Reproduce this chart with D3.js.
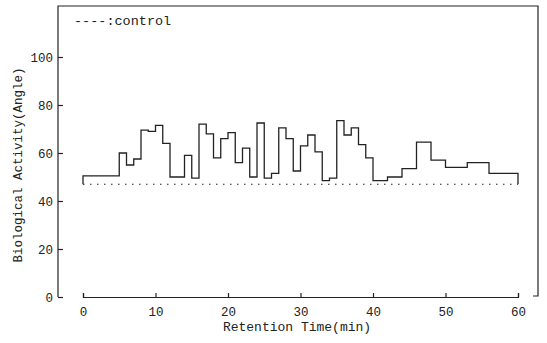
<!DOCTYPE html>
<html>
<head>
<meta charset="utf-8">
<script src="https://d3js.org/d3.v7.min.js"></script>
<style>
  body { margin: 0; background: #fff; }
  text { font-family: "Liberation Mono", "DejaVu Sans Mono", monospace; fill: #222; }
</style>
</head>
<body>
<svg id="chart" width="547" height="343"></svg>
<script>
  // fraction start times (min) and biological activity (angle) of each fraction
  var startTimes = [0, 5, 6, 7, 8, 9, 10, 11, 12, 14, 15, 16, 17, 18, 19, 20, 21, 22, 23, 24,
                    25, 26, 27, 28, 29, 30, 31, 32, 33, 34, 35, 36, 37, 38, 39, 40, 42, 44, 46, 48,
                    50, 53, 56];
  var activity = [50.5, 60, 55, 57.5, 69.5, 69, 71.5, 64, 50, 59, 49.5, 72, 68, 58, 66, 68.5, 56, 62, 50, 72.5,
                  49.5, 51.5, 70.5, 66, 52.5, 63, 67.5, 60.5, 48.5, 49.5, 73.5, 67.5, 70.5, 63.5, 58, 48.5, 50, 53.5, 64.5, 57,
                  54, 56, 51.5];
  var endTime = 60;
  var controlValue = 47;
  var xTicks = [0, 10, 20, 30, 40, 50, 60];
  var yTicks = [0, 20, 40, 60, 80, 100];

  var svg = d3.select('#chart');
  var ink = '#222';

  var x = d3.scaleLinear().domain([0, 60]).range([83, 518]);
  var y = d3.scaleLinear().domain([0, 100]).range([297, 57]);

  // frame
  var frame = d3.path();
  frame.moveTo(58, 297);
  frame.lineTo(58, 6);
  frame.lineTo(538, 6);
  frame.lineTo(538, 296);
  frame.lineTo(533, 296);
  svg.append('path').attr('d', frame).attr('fill', 'none')
    .attr('stroke', ink).attr('stroke-width', 1.2);

  // y axis (ticks point inward)
  var yAxis = svg.append('g').attr('transform', 'translate(58,0)')
    .call(d3.axisLeft(y).tickValues(yTicks).tickSize(-5).tickPadding(5));
  yAxis.select('.domain').remove();
  yAxis.selectAll('line').attr('stroke', ink).attr('stroke-width', 1.2);
  yAxis.selectAll('text').attr('font-size', 12.5).style('font-family', '"Liberation Mono", monospace');

  // x axis
  var xAxis = svg.append('g').attr('transform', 'translate(0,297)')
    .call(d3.axisBottom(x).tickValues(xTicks).tickSize(-4).tickPadding(10));
  xAxis.select('.domain').attr('stroke', ink).attr('stroke-width', 1.2);
  xAxis.selectAll('line').attr('stroke', ink).attr('stroke-width', 1.2);
  xAxis.selectAll('text').attr('font-size', 12.5).style('font-family', '"Liberation Mono", monospace');

  // control (dotted)
  svg.append('line')
    .attr('x1', x(0)).attr('x2', x(endTime))
    .attr('y1', y(controlValue)).attr('y2', y(controlValue))
    .attr('stroke', ink).attr('stroke-width', 1.1)
    .attr('stroke-dasharray', '1.5,5.5');

  // step trace
  var pts = [[0, controlValue]];
  startTimes.forEach(function(t, i) { pts.push([t, activity[i]]); });
  pts.push([endTime, activity[activity.length - 1]]);
  pts.push([endTime, controlValue]);

  var line = d3.line()
    .x(function(d) { return x(d[0]); })
    .y(function(d) { return y(d[1]); })
    .curve(d3.curveStepAfter);

  svg.append('path').datum(pts)
    .attr('d', line)
    .attr('fill', 'none')
    .attr('stroke', ink)
    .attr('stroke-width', 1.3);

  // legend
  svg.append('text').attr('x', 74).attr('y', 25)
    .attr('font-size', 13.5).text('----:control');

  // axis titles
  svg.append('text')
    .attr('x', 297).attr('y', 331)
    .attr('text-anchor', 'middle')
    .attr('font-size', 13)
    .text('Retention Time(min)');

  svg.append('text')
    .attr('transform', 'translate(22,165) rotate(-90)')
    .attr('text-anchor', 'middle')
    .attr('font-size', 12.5)
    .text('Biological Activity(Angle)');
</script>
</body>
</html>
